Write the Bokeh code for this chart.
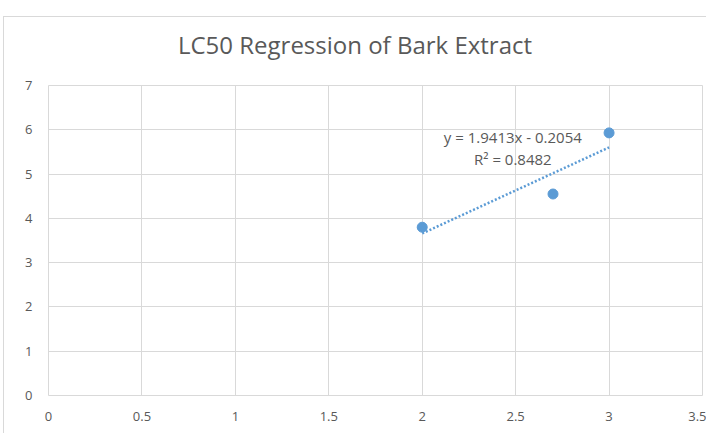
import numpy as np
from bokeh.plotting import figure
from bokeh.layouts import column
from bokeh.models import Range1d, Label, FixedTicker, ColumnDataSource, Div
from bokeh.embed import file_html
from bokeh.resources import INLINE

# Data
x_vals = [2.0, 2.7, 3.0]
y_vals = [3.8, 4.55, 5.93]
x_ticks = [0, 0.5, 1, 1.5, 2, 2.5, 3, 3.5]
y_ticks = [0, 1, 2, 3, 4, 5, 6, 7]
title_text = "LC50 Regression of Bark Extract"
eq_text = "y = 1.9413x - 0.2054"
r2_text = "R\u00b2 = 0.8482"

GRID = "#d9d9d9"
TXT = "#595959"
BLUE = "#5b9bd5"
FONT = "Open Sans"

p = figure(width=702, height=358, output_backend="svg", toolbar_location=None,
           x_range=Range1d(0, 3.5), y_range=Range1d(0, 7),
           min_border_left=44, min_border_right=4, min_border_top=10, min_border_bottom=38)
p.outline_line_color = GRID
p.background_fill_color = "white"
p.border_fill_color = "white"

for ax, ticks in ((p.xaxis, x_ticks), (p.yaxis, y_ticks)):
    ax.ticker = FixedTicker(ticks=ticks)
    ax.axis_line_color = None
    ax.major_tick_line_color = None
    ax.minor_tick_line_color = None
    ax.major_label_text_color = TXT
    ax.major_label_text_font = FONT
    ax.major_label_text_font_size = "13px"
p.xaxis.major_label_standoff = 10
p.yaxis.major_label_standoff = 10
p.xaxis.major_label_overrides = {0: "0", 1: "1", 2: "2", 3: "3"}
p.yaxis.major_label_overrides = {i: str(i) for i in y_ticks}

p.xgrid.grid_line_color = GRID
p.ygrid.grid_line_color = GRID
p.xgrid.ticker = FixedTicker(ticks=x_ticks)
p.ygrid.ticker = FixedTicker(ticks=y_ticks)

# trendline from data
slope, intercept = np.polyfit(x_vals, y_vals, 1)
tx = [min(x_vals), max(x_vals)]
ty = [slope * v + intercept for v in tx]
p.line(tx, ty, line_color=BLUE, line_width=2.5, line_dash="2 2")

src = ColumnDataSource(dict(x=x_vals, y=y_vals))
p.scatter("x", "y", source=src, size=10, fill_color=BLUE, line_color=BLUE)

p.add_layout(Label(x=2.485, y=5.84, text=eq_text, text_align="center", text_baseline="middle",
                   text_font=FONT, text_font_size="15px", text_color=TXT))
p.add_layout(Label(x=2.485, y=5.34, text=r2_text, text_align="center", text_baseline="middle",
                   text_font=FONT, text_font_size="15px", text_color=TXT))

title_div = Div(
    text=(f'<div style="width:680px;text-align:center;padding-top:16px;padding-left:22px;'
          f'font-family:\'Open Sans\';font-size:24px;line-height:24px;color:{TXT};">'
          f'{title_text}</div>'),
    width=702, height=58, margin=(0, 0, 0, 0))

layout = column(title_div, p, spacing=0)
layout.styles = {"margin-left": "3px", "margin-top": "16px",
                 "border-left": "1px solid #d9d9d9", "border-top": "1px solid #d9d9d9",
                 "background-color": "white"}

open("out.html", "w").write(file_html(layout, INLINE))
